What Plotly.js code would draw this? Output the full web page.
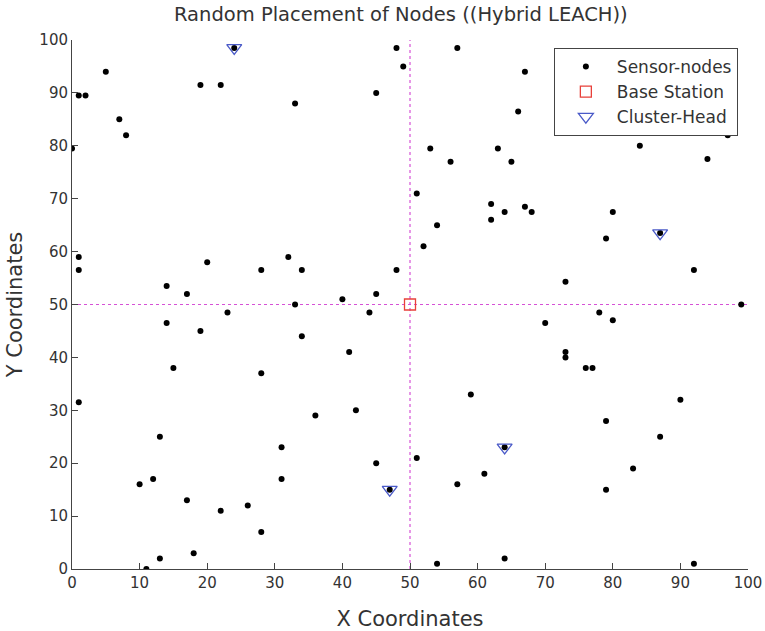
<!DOCTYPE html>
<html>
<head>
<meta charset="utf-8">
<script src="https://cdn.plot.ly/plotly-3.0.1.min.js"></script>
<style>html,body{margin:0;padding:0;background:#fff;}#chart{width:765px;height:631px;}</style>
</head>
<body>
<div id="chart"></div>
<script>
// Sensor node coordinates
const sensorX = [5,1,2,7,8,0,19,22,24,33,48,57,49,45,67,66,53,63,56,65,51,62,64,67,68,62,54,84,94,97,80,87,
  1,1,14,17,20,14,19,23,15,28,32,34,33,34,28,52,48,40,45,44,41,70,59,79,92,73,99,78,80,73,73,76,77,90,
  1,13,10,12,17,18,13,11,22,26,28,31,31,36,42,45,47,51,64,61,57,54,64,79,87,83,79,92];
const sensorY = [94,89.5,89.5,85,82,79.5,91.5,91.5,98.5,88,98.5,98.5,95,90,94,86.5,79.5,79.5,77,77,71,69,67.5,68.5,67.5,66,65,80,77.5,82,67.5,63.5,
  59,56.5,53.5,52,58,46.5,45,48.5,38,56.5,59,56.5,50,44,37,61,56.5,51,52,48.5,41,46.5,33,62.5,56.5,54.3,50,48.5,47,41,40,38,38,32,
  31.5,25,16,17,13,3,2,0,11,12,7,23,17,29,30,20,15,21,23,18,16,1,2,28,25,19,15,1];
// Base station
const baseX = [50];
const baseY = [50];
// Cluster heads
const chX = [24,87,47,64];
const chY = [98.5,63.5,15,23];
// Guide lines through base station
const guideVX = [50,50], guideVY = [0,100];
const guideHX = [0,100], guideHY = [50,50];
const tickVals = [0,10,20,30,40,50,60,70,80,90,100];

const font = "DejaVu Sans, Liberation Sans, Arial, sans-serif";
const guideColor = "#d651d6";

const traces = [
  {x: guideVX, y: guideVY, mode: "lines", line: {color: guideColor, dash: "dot", width: 1.2}, showlegend: false, hoverinfo: "skip"},
  {x: guideHX, y: guideHY, mode: "lines", line: {color: guideColor, dash: "dot", width: 1.2}, showlegend: false, hoverinfo: "skip"},
  {x: sensorX, y: sensorY, mode: "markers", name: "Sensor-nodes",
   marker: {symbol: "circle", size: 6, color: "#000"}},
  {x: baseX, y: baseY, mode: "markers", name: "Base Station",
   marker: {symbol: "square-open", size: 11, color: "#e8403a", line: {width: 1.3}}},
  {x: chX, y: chY, mode: "markers", name: "Cluster-Head",
   marker: {symbol: "triangle-down-open", size: 13, color: "#4a5ac8", line: {width: 1.3}}}
];

const axisBase = {
  range: [0, 100], tickvals: tickVals, ticktext: tickVals.map(String),
  showgrid: false, zeroline: false, showline: true, linecolor: "#444", linewidth: 1,
  ticks: "inside", ticklen: 6, tickcolor: "#444", mirror: false,
  tickfont: {family: font, size: 15, color: "#333"}
};

const layout = {
  width: 765, height: 631,
  margin: {l: 72, r: 17, t: 40, b: 62},
  paper_bgcolor: "#fff", plot_bgcolor: "#fff",
  font: {family: font, color: "#333"},
  title: {text: "Random Placement of Nodes ((Hybrid LEACH))", font: {family: font, size: 19.5, color: "#333"},
          x: 0.524, xanchor: "center", y: 0.977, yanchor: "middle"},
  xaxis: Object.assign({}, axisBase, {title: {text: "X Coordinates", font: {family: font, size: 21, color: "#333"}, standoff: 20}}),
  yaxis: Object.assign({}, axisBase, {title: {text: "Y Coordinates", font: {family: font, size: 21, color: "#333"}, standoff: 11}}),
  legend: {x: 0.985, y: 0.985, xanchor: "right", yanchor: "top",
           bgcolor: "#fff", bordercolor: "#444", borderwidth: 1,
           font: {family: font, size: 17, color: "#333"}, itemwidth: 52},
  showlegend: true
};

Plotly.newPlot("chart", traces, layout, {staticPlot: true, displayModeBar: false});
</script>
</body>
</html>
